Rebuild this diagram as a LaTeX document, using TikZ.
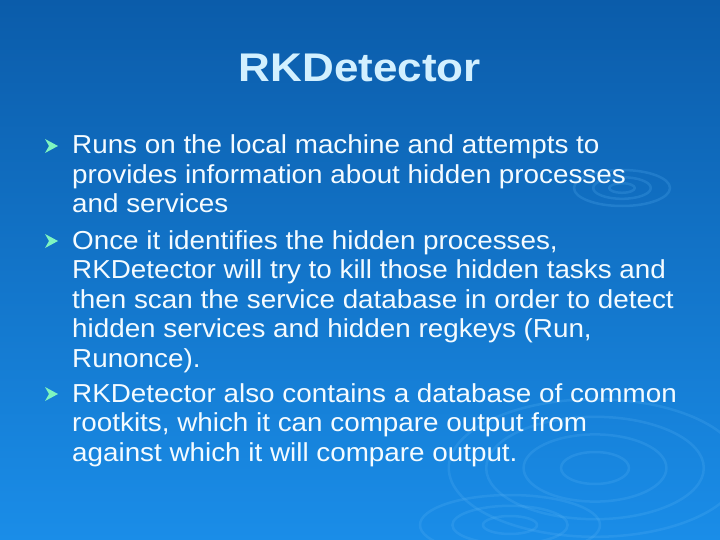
\documentclass[tikz,border=0pt]{standalone}
\usepackage{fontspec}
\setmainfont{Liberation Sans}
\newfontfamily\bodyfont[FakeStretch=1.07]{Liberation Sans}
\newfontfamily\titlefont[FakeStretch=1.1]{Liberation Sans}
\definecolor{bgtop}{HTML}{0B5CAA}
\definecolor{bgbot}{HTML}{1A8DE8}
\definecolor{titlec}{HTML}{D2F0FF}
\definecolor{txt}{HTML}{F4FBFF}
\definecolor{bul}{HTML}{7FF5C0}
\definecolor{ring}{HTML}{5AB4F5}
\begin{document}
\begin{tikzpicture}[x=1pt,y=-1pt,
  line/.style={anchor=base west,inner sep=0pt,text=txt,font=\bodyfont\fontsize{26}{26}\selectfont},
  bulletmark/.style={fill=bul,draw=none},
  ringst/.style={draw=ring,opacity=0.22,line width=2.5pt}]
\shade[top color=bgtop,bottom color=bgbot] (0,0) rectangle (720,540);
\useasboundingbox (0,0) rectangle (720,540);
% ripples
\foreach \r in {8,18,30} \draw[ringst] (622,188) ellipse ({\r*1.6} and {\r*0.6});
\foreach \r in {20,42,64,86} \draw[ringst] (595,468) ellipse ({\r*1.7} and {\r*0.8});
\foreach \r in {15,32,50} \draw[ringst] (510,525) ellipse ({\r*1.8} and {\r*0.6});
\node[anchor=center,text=titlec,font=\titlefont\bfseries\fontsize{40}{40}\selectfont] (title) at (360,68) {RKDetector};
% bullets
\foreach \y [count=\i] in {154,249,402}{
  \fill[bulletmark] (45,\y-15) -- (58,\y-8) -- (45,\y-1) -- (49,\y-8) -- cycle;
}
\node[line] (l1) at (72,154) {Runs on the local machine and attempts to};
\node[line] (l2) at (72,183.5) {provides information about hidden processes};
\node[line] (l3) at (72,213) {and services};
\node[line] (l4) at (72,249) {Once it identifies the hidden processes,};
\node[line] (l5) at (72,278.5) {RKDetector will try to kill those hidden tasks and};
\node[line] (l6) at (72,308) {then scan the service database in order to detect};
\node[line] (l7) at (72,337.5) {hidden services and hidden regkeys (Run,};
\node[line] (l8) at (72,367) {Runonce).};
\node[line] (l9) at (72,402) {RKDetector also contains a database of common};
\node[line] (l10) at (72,431.5) {rootkits, which it can compare output from};
\node[line] (l11) at (72,461) {against which it will compare output.};
\end{tikzpicture}
\end{document}
